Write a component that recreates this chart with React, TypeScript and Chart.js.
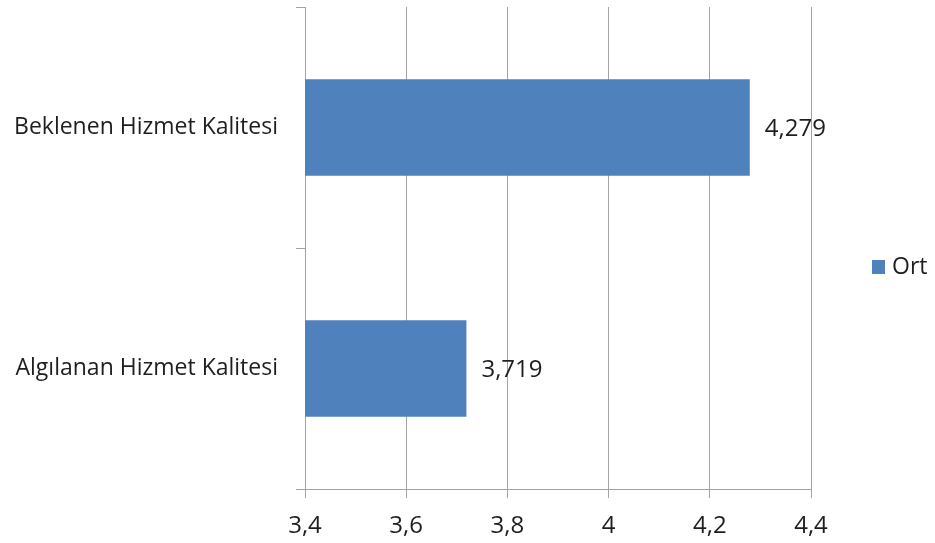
import React, { useEffect, useRef } from "react";
import { Chart, registerables } from "chart.js";

Chart.register(...registerables);

// Survey averages (Ort) for expected vs perceived service quality
const categories: string[] = ["Beklenen Hizmet Kalitesi", "Algılanan Hizmet Kalitesi"];
const ortValues: number[] = [4.279, 3.719];
const seriesName = "Ort";
const axisMin = 3.4;
const axisMax = 4.4;
const axisStep = 0.2;

const BAR_COLOR = "#4f81bd";
const GRID_COLOR = "#a3a3a3";
const TEXT_COLOR = "#1e1e1e";
const FONT_FAMILY = "'Open Sans', 'Noto Sans', sans-serif";

const formatTr = (v: number, digits?: number): string => {
  const s = digits === undefined ? String(Math.round(v * 10) / 10) : v.toFixed(digits);
  return s.replace(".", ",");
};

// Value labels to the right of each bar end
const valueLabelPlugin = {
  id: "valueLabels",
  afterDatasetsDraw(chart: any) {
    const ctx = chart.ctx;
    ctx.save();
    ctx.font = `24px ${FONT_FAMILY}`;
    ctx.fillStyle = TEXT_COLOR;
    ctx.textAlign = "left";
    ctx.textBaseline = "middle";
    chart.data.datasets.forEach((ds: any, di: number) => {
      const meta = chart.getDatasetMeta(di);
      meta.data.forEach((bar: any, i: number) => {
        const v = ds.data[i] as number;
        ctx.fillText(formatTr(v, 3), bar.x + 15, bar.y + 2);
      });
    });
    ctx.restore();
  },
};

// Single-entry legend placed to the right of the plot area
const sideLegendPlugin = {
  id: "sideLegend",
  afterDraw(chart: any) {
    const ctx = chart.ctx;
    const ds = chart.data.datasets[0];
    const x = chart.chartArea.right + 61;
    const y = 267;
    ctx.save();
    ctx.fillStyle = ds.backgroundColor;
    ctx.fillRect(x, y - 7, 13, 14);
    ctx.font = `23px ${FONT_FAMILY}`;
    ctx.fillStyle = TEXT_COLOR;
    ctx.textAlign = "left";
    ctx.textBaseline = "middle";
    ctx.fillText(ds.label, x + 20, y);
    ctx.restore();
  },
};

export default function App() {
  const canvasRef = useRef<HTMLCanvasElement | null>(null);

  useEffect(() => {
    if (!canvasRef.current) return;
    const chart = new Chart(canvasRef.current, {
      type: "bar",
      data: {
        labels: categories,
        datasets: [
          {
            label: seriesName,
            data: ortValues,
            backgroundColor: BAR_COLOR,
            borderWidth: 0,
            categoryPercentage: 1,
            barPercentage: 0.4,
          },
        ],
      },
      options: {
        indexAxis: "y",
        responsive: false,
        animation: false,
        layout: { padding: { top: 7, right: 124, bottom: 0, left: 0 } },
        plugins: {
          legend: { display: false },
          tooltip: { enabled: false },
        },
        scales: {
          x: {
            type: "linear",
            min: axisMin,
            max: axisMax,
            afterFit: (scale: any) => {
              scale.height = 54;
            },
            ticks: {
              stepSize: axisStep,
              color: TEXT_COLOR,
              font: { family: FONT_FAMILY, size: 24 },
              padding: 14,
              callback: (v: any) => formatTr(Number(v)),
            },
            grid: {
              color: GRID_COLOR,
              lineWidth: 1,
              drawOnChartArea: true,
              drawTicks: true,
              tickLength: 9,
            },
            border: { display: true, color: GRID_COLOR, width: 1 },
          },
          y: {
            type: "category",
            afterFit: (scale: any) => {
              scale.width = 305;
              scale.paddingTop = 0;
              scale.paddingBottom = 0;
            },
            ticks: {
              color: TEXT_COLOR,
              font: { family: FONT_FAMILY, size: 23 },
              padding: 18,
            },
            grid: {
              offset: true,
              color: GRID_COLOR,
              lineWidth: 1,
              drawOnChartArea: false,
              drawTicks: true,
              tickLength: 9,
            },
            border: { display: true, color: GRID_COLOR, width: 1 },
          },
        },
      },
      plugins: [valueLabelPlugin, sideLegendPlugin],
    });
    return () => chart.destroy();
  }, []);

  return (
    <div style={{ position: "absolute", left: 0, top: 0, width: 935, height: 543, background: "#ffffff" }}>
      <canvas ref={canvasRef} width={935} height={543} style={{ display: "block" }} />
    </div>
  );
}
